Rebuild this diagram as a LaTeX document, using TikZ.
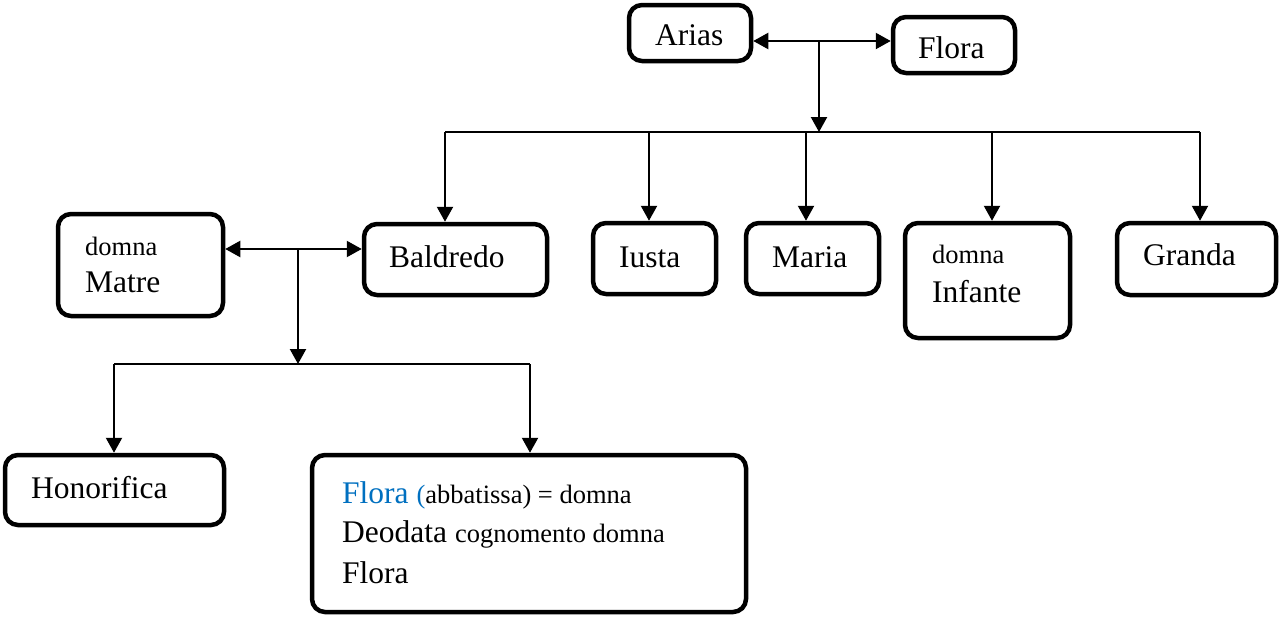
\documentclass[tikz,border=0pt]{standalone}
\usepackage{fontspec}
\setmainfont{Liberation Serif}
\usetikzlibrary{arrows.meta}
\definecolor{florablue}{RGB}{0,112,192}
\tikzset{
  box/.style={draw, line width=4.5pt, rounded corners=13pt, inner sep=0pt, fill=white},
  big/.style={anchor=base west, inner sep=0pt, font=\fontsize{31.5pt}{36pt}\selectfont},
  small/.style={anchor=base west, inner sep=0pt, font=\fontsize{26.5pt}{30pt}\selectfont},
  conn/.style={line width=2.2pt, -{Triangle[length=15pt,width=16pt]}},
  dconn/.style={line width=2.2pt, {Triangle[length=15pt,width=16pt]}-{Triangle[length=15pt,width=16pt]}},
  barline/.style={line width=2pt}
}
\begin{document}
\begin{tikzpicture}[x=1pt,y=-1pt]
\useasboundingbox (0,0) rectangle (1282,616);
% boxes
\node[box, minimum width=122pt, minimum height=56pt] (Arias) at (690,33) {};
\node[box, minimum width=122pt, minimum height=56pt] (FloraTop) at (954,45) {};
\node[box, minimum width=165pt, minimum height=102pt] (Matre) at (140.5,265) {};
\node[box, minimum width=183pt, minimum height=71pt] (Baldredo) at (455.5,259.5) {};
\node[box, minimum width=123pt, minimum height=71pt] (Iusta) at (654.5,258.5) {};
\node[box, minimum width=133pt, minimum height=71pt] (Maria) at (812.5,258.5) {};
\node[box, minimum width=165pt, minimum height=115pt] (Infante) at (987.5,280.5) {};
\node[box, minimum width=159pt, minimum height=72pt] (Granda) at (1196.5,259) {};
\node[box, minimum width=219pt, minimum height=70pt] (Honorifica) at (114.5,490) {};
\node[box, minimum width=434pt, minimum height=157pt] (FloraBig) at (529,533.5) {};
% texts
\node[big] (tArias) at (655,45) {Arias};
\node[big] (tFlora) at (918,58) {Flora};
\node[small] (tMatre1) at (85,255) {domna};
\node[big] (tMatre2) at (85,292) {Matre};
\node[big] (tBaldredo) at (389,267) {Baldredo};
\node[big] (tIusta) at (619,267) {Iusta};
\node[big] (tMaria) at (772,267) {Maria};
\node[small] (tInf1) at (932,263) {domna};
\node[big] (tInf2) at (932,302) {Infante};
\node[big] (tGranda) at (1143,265) {Granda};
\node[big] (tHon) at (31,498) {Honorifica};
\node[big] (tB1) at (342,503) {\textcolor{florablue}{Flora} {\fontsize{26.5pt}{30pt}\selectfont\textcolor{florablue}{(}abbatissa) = domna}};
\node[big] (tB2) at (342,542) {Deodata {\fontsize{26.5pt}{30pt}\selectfont cognomento domna}};
\node[big] (tB3) at (342,583) {Flora};
% top family connectors
\coordinate (m1) at (819,41);
\coordinate (b1L) at (445,132);
\coordinate (b1R) at (1200,132);
\draw[dconn] (Arias.east |- m1) -- (FloraTop.west |- m1);
\draw[conn] (m1) -- (m1 |- b1L);
\draw[barline] (b1L) -- (b1R);
\draw[conn] (b1L) -- (b1L |- Baldredo.north);
\coordinate (d2) at (649,132);
\coordinate (d3) at (806,132);
\coordinate (d4) at (992,132);
\draw[conn] (d2) -- (d2 |- Iusta.north);
\draw[conn] (d3) -- (d3 |- Maria.north);
\draw[conn] (d4) -- (d4 |- Infante.north);
\draw[conn] (b1R) -- (b1R |- Granda.north);
% lower family connectors
\coordinate (m2) at (298,249);
\coordinate (b2L) at (114,364);
\coordinate (b2R) at (530,364);
\draw[dconn] (Matre.east |- m2) -- (Baldredo.west |- m2);
\draw[conn] (m2) -- (m2 |- b2L);
\draw[barline] (b2L) -- (b2R);
\draw[conn] (b2L) -- (b2L |- Honorifica.north);
\draw[conn] (b2R) -- (b2R |- FloraBig.north);
\end{tikzpicture}
\end{document}
